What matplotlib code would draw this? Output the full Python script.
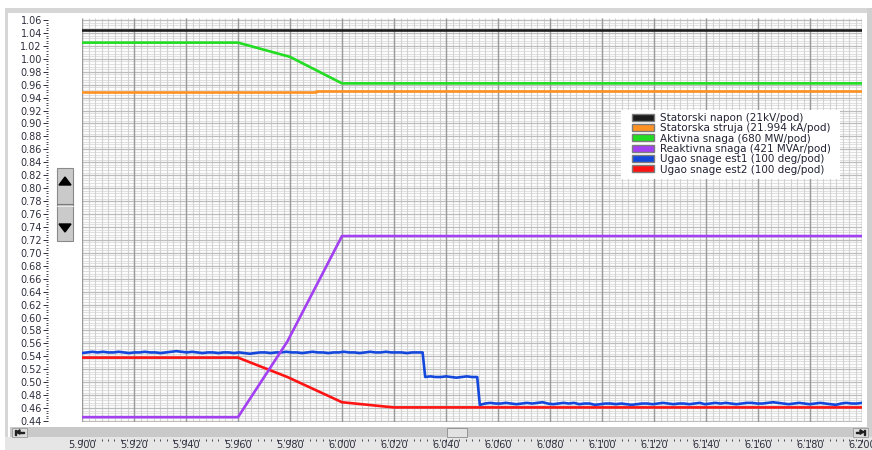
import numpy as np
import matplotlib
matplotlib.use('Agg')
import matplotlib.pyplot as plt
from matplotlib.patches import Rectangle, Polygon, Patch
from matplotlib.ticker import MultipleLocator, FormatStrFormatter

# series (per-unit on the common 0.44 .. 1.06 scale), time in seconds
napon_t = [5.900, 6.200]
napon_v = [1.045, 1.045]

struja_t = [5.900, 5.990, 5.990, 6.200]
struja_v = [0.949, 0.949, 0.950, 0.950]

aktivna_t = [5.900, 5.960, 5.980, 6.000, 6.200]
aktivna_v = [1.025, 1.025, 1.003, 0.962, 0.962]

reaktivna_t = [5.900, 5.960, 5.979, 6.000, 6.200]
reaktivna_v = [0.446, 0.446, 0.563, 0.726, 0.726]

est2_t = [5.900, 5.960, 5.979, 6.000, 6.020, 6.200]
est2_v = [0.538, 0.538, 0.508, 0.469, 0.461, 0.461]

# est1 is sampled, three plateaus
est1_a = [0.545, 0.546, 0.547, 0.546, 0.547, 0.546, 0.546, 0.547, 0.546, 0.545,
          0.546, 0.546, 0.547, 0.546, 0.546, 0.545, 0.546, 0.547, 0.548, 0.547,
          0.546, 0.547, 0.546, 0.545, 0.546, 0.546, 0.545, 0.546, 0.546, 0.545,
          0.546, 0.545, 0.544, 0.545, 0.546, 0.546, 0.545, 0.546, 0.546, 0.547,
          0.546, 0.546, 0.545, 0.546, 0.547, 0.546, 0.546, 0.545, 0.546, 0.546,
          0.547, 0.546, 0.546, 0.545, 0.546, 0.547, 0.546, 0.546, 0.547, 0.546,
          0.546, 0.546, 0.545, 0.546, 0.546, 0.546]
est1_b = [0.508, 0.509, 0.508, 0.508, 0.509, 0.508, 0.507, 0.508, 0.509, 0.508, 0.508]
est1_c = [0.465, 0.467, 0.468, 0.467, 0.467, 0.468, 0.467, 0.466, 0.467, 0.468,
          0.467, 0.468, 0.469, 0.467, 0.466, 0.467, 0.468, 0.467, 0.468, 0.466,
          0.467, 0.467, 0.465, 0.466, 0.467, 0.467, 0.466, 0.467, 0.466, 0.465,
          0.466, 0.467, 0.467, 0.466, 0.467, 0.468, 0.467, 0.466, 0.467, 0.467,
          0.466, 0.467, 0.468, 0.466, 0.467, 0.468, 0.467, 0.468, 0.467, 0.466,
          0.467, 0.468, 0.468, 0.467, 0.467, 0.468, 0.469, 0.468, 0.467, 0.466,
          0.467, 0.468, 0.467, 0.466, 0.467, 0.468, 0.467, 0.466, 0.465, 0.467,
          0.468, 0.467, 0.467, 0.468]
est1_seg = [(5.900, 6.031), (6.032, 6.052), (6.053, 6.200)]

LABELS = ['Statorski napon (21kV/pod)',
          'Statorska struja (21.994 kA/pod)',
          'Aktivna snaga (680 MW/pod)',
          'Reaktivna snaga (421 MVAr/pod)',
          'Ugao snage est1 (100 deg/pod)',
          'Ugao snage est2 (100 deg/pod)']
COLORS = ['#1c1c1c', '#ff9222', '#22dd22', '#a240f2', '#1448dc', '#ff1414']

XLIM = (5.900, 6.200)
YLIM = (0.44 - 0.5 / 646.8, 1.06 + 2 / 646.8)

W, H = 872, 450
fig = plt.figure(figsize=(W / 100, H / 100), dpi=100, facecolor='white')


def px_axes(x, y, w, h, **kw):
    # axes placed in pixel coords measured from the top-left corner
    return fig.add_axes([x / W, 1 - (y + h) / H, w / W, h / H], **kw)


# panel chrome (under everything)
bg = px_axes(0, 0, W, H, zorder=-1)
bg.set_xlim(0, W)
bg.set_ylim(H, 0)
bg.axis('off')
for (x, y, w, h, c) in [(5, 8, 867, 5, '#d6d6d6'), (5, 8, 3, 442, '#d6d6d6'),
                        (867, 8, 5, 442, '#d0d0d0'), (5, 437, 867, 13, '#e6e6e6'),
                        (10, 427, 858, 10, '#c9c9c9')]:
    bg.add_patch(Rectangle((x, y), w, h, facecolor=c, edgecolor='none'))
# scrollbar buttons and thumb
bg.add_patch(Rectangle((12, 427.5), 15, 9, facecolor='#dcdcdc', edgecolor='#9a9a9a', lw=0.6))
bg.add_patch(Polygon([(16, 432), (20, 429.8), (20, 434.2)], closed=True, color='#202020'))
bg.add_patch(Rectangle((20, 431.5), 4, 1, color='#202020'))
bg.add_patch(Rectangle((15, 429.5), 1, 5, color='#202020'))
bg.add_patch(Rectangle((853, 427.5), 15, 9, facecolor='#dcdcdc', edgecolor='#9a9a9a', lw=0.6))
bg.add_patch(Polygon([(864, 432), (860, 429.8), (860, 434.2)], closed=True, color='#202020'))
bg.add_patch(Rectangle((856, 431.5), 4, 1, color='#202020'))
bg.add_patch(Rectangle((864, 429.5), 1, 5, color='#202020'))
bg.add_patch(Rectangle((447, 427.5), 20, 9, facecolor='#e2e2e2', edgecolor='#8c8c8c', lw=0.6))
# vertical zoom slider
bg.add_patch(Rectangle((57, 168), 16, 73, facecolor='#cacaca', edgecolor='#8a8a8a', lw=0.8))
bg.plot([57, 73], [203.5, 203.5], color='#7a7a7a', lw=0.8)
bg.plot([57, 73], [205.5, 205.5], color='#eeeeee', lw=0.6)
bg.add_patch(Polygon([(59, 185), (71, 185), (65, 177)], closed=True, color='black'))
bg.add_patch(Polygon([(59, 224), (71, 224), (65, 232)], closed=True, color='black'))

# plot area
x0, x1, ytop, ybot = 82, 862, 18, 421.5
ax = px_axes(x0, ytop, x1 - x0, ybot - ytop)
ax.set_facecolor('white')
ax.set_xlim(*XLIM)
ax.set_ylim(*YLIM)
ax.set_xticks([])
ax.set_yticks([])
for s in ax.spines.values():
    s.set_visible(False)

# grid drawn by hand so the major verticals stay on top of the fine lines
gx_minor = np.arange(5.900, 6.2001, 0.0025)
gx_major = np.arange(5.900, 6.2001, 0.02)
gy_minor = np.arange(0.440, 1.0601, 0.004)
gy_major = np.arange(0.440, 1.0601, 0.02)
ax.hlines(gy_minor, *XLIM, color='#e0e0e0', lw=0.8, zorder=0.1)
ax.vlines(gx_minor, *YLIM, color='#d2d2d2', lw=0.8, zorder=0.2)
ax.hlines(gy_major, *XLIM, color='#bcbcbc', lw=0.9, zorder=0.3)
ax.vlines(gx_major, *YLIM, color='#9a9a9a', lw=1.0, zorder=0.4)

lw = 1.9
ax.plot(napon_t, napon_v, color=COLORS[0], lw=lw)
ax.plot(struja_t, struja_v, color=COLORS[1], lw=lw)
ax.plot(aktivna_t, aktivna_v, color=COLORS[2], lw=lw)
ax.plot(est2_t, est2_v, color=COLORS[5], lw=lw)
est1_t = np.concatenate([np.linspace(a, b, len(v)) for (a, b), v in
                         zip(est1_seg, [est1_a, est1_b, est1_c])])
est1_v = est1_a + est1_b + est1_c
ax.plot(est1_t, est1_v, color=COLORS[4], lw=lw)
ax.plot(reaktivna_t, reaktivna_v, color=COLORS[3], lw=lw)

tick_col = '#2e2e3e'

# detached value scale left of the zoom slider
yax = px_axes(48, ytop, 0.01, ybot - ytop, facecolor='none')
yax.set_ylim(*YLIM)
yax.set_xticks([])
for s in yax.spines.values():
    s.set_visible(False)
yax.yaxis.set_major_locator(MultipleLocator(0.02))
yax.yaxis.set_minor_locator(MultipleLocator(0.004))
yax.yaxis.set_major_formatter(FormatStrFormatter('%.2f'))
yax.tick_params(axis='y', which='major', direction='out', length=3.6, width=0.7,
                color=tick_col, labelsize=7, labelcolor=tick_col, pad=0.8)
yax.tick_params(axis='y', which='minor', direction='out', length=1.8, width=0.6, color=tick_col)

# time scale under the scrollbar
xax = px_axes(x0, 438.5, x1 - x0, 0.01, facecolor='none')
xax.set_xlim(*XLIM)
xax.set_yticks([])
for s in xax.spines.values():
    s.set_visible(False)
xax.xaxis.set_major_locator(MultipleLocator(0.02))
xax.xaxis.set_minor_locator(MultipleLocator(0.0025))
xax.xaxis.set_major_formatter(FormatStrFormatter('%.3f'))
xax.tick_params(axis='x', which='major', direction='out', length=2.2, width=0.7,
                color=tick_col, labelsize=7, labelcolor=tick_col, pad=-1.3)
xax.tick_params(axis='x', which='minor', direction='out', length=1.4, width=0.6, color=tick_col)

# legend on a white card
card = Rectangle((621 / W, 1 - 179 / H), 219 / W, 69 / H, transform=fig.transFigure,
                 facecolor='white', edgecolor='none', zorder=4)
fig.add_artist(card)
handles = [Patch(facecolor=c, edgecolor='#7c7c7c', lw=1.0) for c in COLORS]
leg = fig.legend(handles, LABELS, loc='upper left',
                 bbox_to_anchor=(632 / W, 1 - 113 / H), bbox_transform=fig.transFigure,
                 fontsize=7.5, frameon=False,
                 handlelength=2.1, handleheight=0.65, handletextpad=0.55,
                 labelspacing=0.03, borderpad=0, borderaxespad=0)
leg.set_zorder(5)
for t in leg.get_texts():
    t.set_color('#222233')

fig.savefig('out.png', dpi=100, facecolor='white')
